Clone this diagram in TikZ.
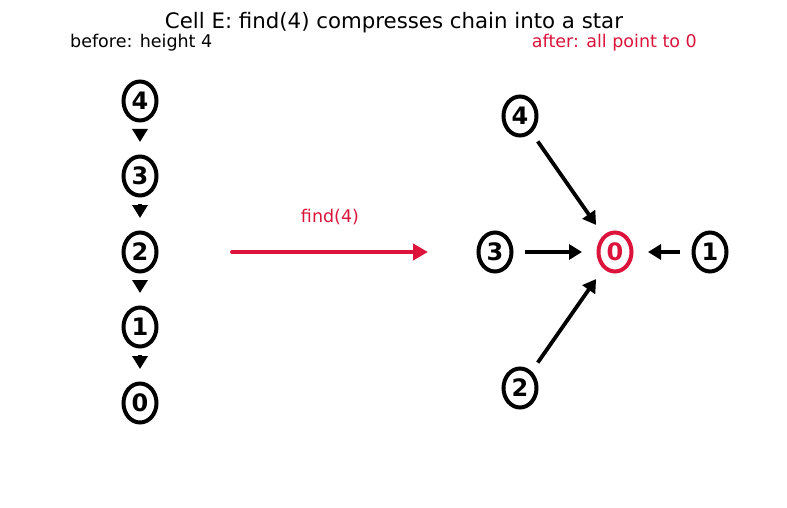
\documentclass[tikz,border=0pt]{standalone}
\usepackage{fontspec}
\setmainfont{DejaVu Sans}
\usetikzlibrary{arrows.meta,calc,shapes.geometric}
\definecolor{crim}{RGB}{220,20,60}
\tikzset{
  uf/.style={ellipse, draw=black, line width=4pt, fill=white, inner sep=0pt,
    minimum width=33pt, minimum height=39pt, font=\fontsize{24}{24}\selectfont\bfseries},
  ufroot/.style={uf, draw=crim, text=crim},
  arr/.style={draw=black, line width=3.8pt, -{Triangle[length=13pt,width=15pt]}},
  redarr/.style={draw=crim, line width=4pt, line cap=round, -{Triangle[length=15pt,width=16pt]}},
  lbl/.style={font=\fontsize{17.5}{17.5}\selectfont}
}
\begin{document}
\begin{tikzpicture}[x=1pt,y=-1pt]
\useasboundingbox (0,0) rectangle (787,508);
\fill[white] (0,0) rectangle (787,508);
\node[font=\fontsize{21.3}{21.3}\selectfont] (title) at (394,23) {Cell E: find(4) compresses chain into a star};
\node[lbl, anchor=west, inner sep=0pt] (before) at (70,43) {before: height 4};
\node[lbl, anchor=east, inner sep=0pt, text=crim] (after) at (697,43) {after: all point to 0};
% left chain
\node[uf] (a4) at (140,101) {4};
\node[uf] (a3) at (140,176) {3};
\node[uf] (a2) at (140,252) {2};
\node[uf] (a1) at (140,327) {1};
\node[uf] (a0) at (140,403) {0};
\foreach \p/\q in {a4/a3,a3/a2,a2/a1,a1/a0}
  \draw[arr] ($(\p)!28pt!(\q)$) -- ($(\q)!34pt!(\p)$);
% transform arrow
\coordinate (fs) at (232,252);
\coordinate (fe) at (428,252);
\draw[redarr] (fs) -- (fe);
\node[lbl, text=crim] (flabel) at (330,217) {find(4)};
% right star
\node[ufroot] (b0) at (615,252) {0};
\node[uf] (b4) at (520,116) {4};
\node[uf] (b3) at (495,252) {3};
\node[uf] (b1) at (710,252) {1};
\node[uf] (b2) at (520,388) {2};
\draw[arr] ($(b4)!31pt!(b0)$) -- ($(b0)!33pt!(b4)$);
\draw[arr] ($(b2)!31pt!(b0)$) -- ($(b0)!33pt!(b2)$);
\draw[arr] ($(b3)!30pt!(b0)$) -- ($(b0)!33pt!(b3)$);
\draw[arr] ($(b1)!30pt!(b0)$) -- ($(b0)!33pt!(b1)$);
\end{tikzpicture}
\end{document}
